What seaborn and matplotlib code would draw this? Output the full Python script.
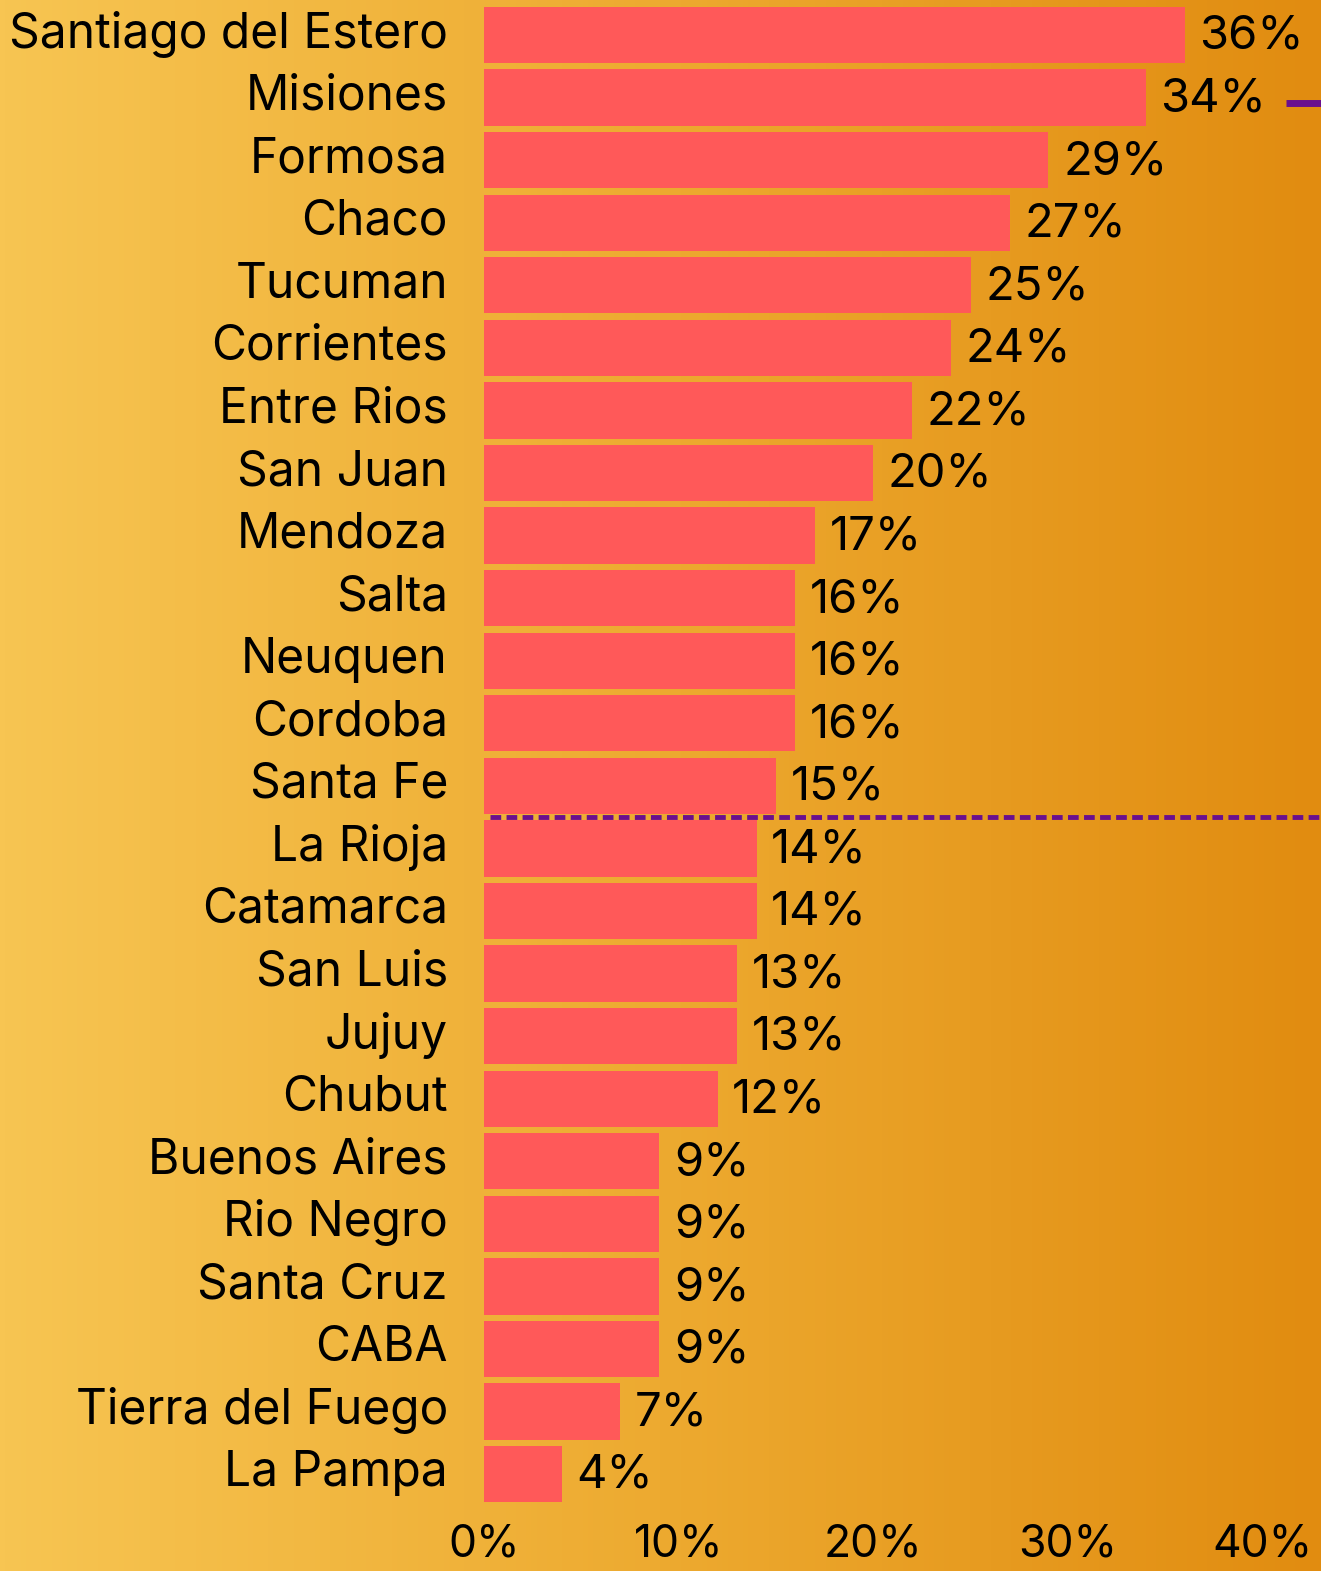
import numpy as np
import pandas as pd
import seaborn as sns
import matplotlib.pyplot as plt
from matplotlib.colors import LinearSegmentedColormap
from matplotlib.transforms import ScaledTranslation

provinces = ["Santiago del Estero", "Misiones", "Formosa", "Chaco", "Tucuman",
             "Corrientes", "Entre Rios", "San Juan", "Mendoza", "Salta", "Neuquen",
             "Cordoba", "Santa Fe", "La Rioja", "Catamarca", "San Luis", "Jujuy",
             "Chubut", "Buenos Aires", "Rio Negro", "Santa Cruz", "CABA",
             "Tierra del Fuego", "La Pampa"]
values = [36, 34, 29, 27, 25, 24, 22, 20, 17, 16, 16, 16, 15, 14, 14, 13, 13,
          12, 9, 9, 9, 9, 7, 4]
x_ticks = [0, 10, 20, 30, 40]

df = pd.DataFrame({"provincia": provinces, "valor": values})

sns.set_style("white")
plt.rcParams["font.family"] = ["Inter", "DejaVu Sans"]
plt.rcParams["text.color"] = "black"
plt.rcParams["xtick.color"] = "black"
plt.rcParams["ytick.color"] = "black"

fig = plt.figure(figsize=(13.21, 15.71), dpi=100)

# gradient background
bg = fig.add_axes([0, 0, 1, 1], zorder=-1)
grad = np.linspace(0, 1, 256).reshape(1, -1)
cmap = LinearSegmentedColormap.from_list("bg", ["#F7C552", "#EDAA30", "#E18C10"])
bg.imshow(grad, aspect="auto", cmap=cmap, extent=[0, 1, 0, 1])
bg.axis("off")

ax = fig.add_axes([0.3664, 0.0418, 0.6336, 0.9558])
ax.patch.set_alpha(0)
sns.barplot(data=df, y="provincia", x="valor", color="#FF5959", width=0.9,
            saturation=1, linewidth=0, ax=ax)

for i, v in enumerate(values):
    ax.text(v + 0.75, i + 0.03, f"{v}%", va="center", ha="left", fontsize=34,
            color="black")

# dashed reference line and cut-off marker
ax.hlines(12.5, 0.3, 43, colors="#6A0F8E", linestyles=(0, (2.2, 1.1)), linewidth=3.5)
ax.hlines(1.08, 41.2, 43, colors="#6A0F8E", linewidth=5)

ax.set_xlim(0, 43)
ax.set_ylim(23.5, -0.5)
ax.set_xticks(x_ticks)
ax.set_xticklabels([f"{t}%" for t in x_ticks], fontsize=32)
ax.tick_params(axis="y", labelsize=34.5, pad=26, length=0)
ax.tick_params(axis="x", pad=13, length=0)
ax.set_xlabel("")
ax.set_ylabel("")
sns.despine(ax=ax, left=True, bottom=True)

# nudge province labels up a bit
shift = ScaledTranslation(0, 6 / 100, fig.dpi_scale_trans)
for tick in ax.yaxis.get_major_ticks():
    tick.label1.set_transform(tick.label1.get_transform() + shift)

fig.savefig("out.png", dpi=100)
